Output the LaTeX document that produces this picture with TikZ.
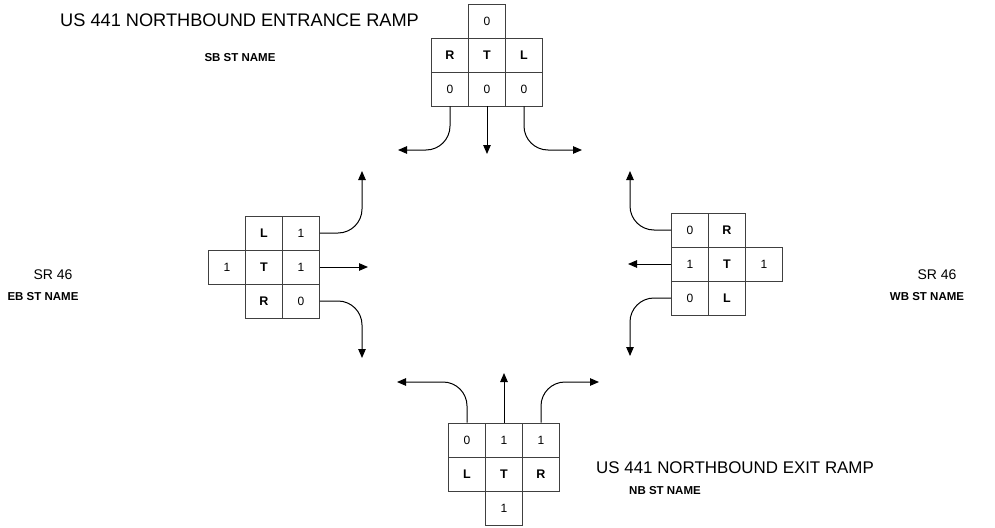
\documentclass[tikz,border=0pt]{standalone}
\usepackage{fontspec}
\setmainfont{Liberation Sans}
\usetikzlibrary{arrows.meta}
\begin{document}
\begin{tikzpicture}[x=1pt,y=-1pt,
 cell/.style={draw=black!75, line width=0.8pt, minimum width=37pt, minimum height=34pt, inner sep=0pt, font=\fontsize{12}{14}\selectfont},
 bcell/.style={cell, font=\fontsize{12.5}{14}\selectfont\bfseries},
 arr/.style={line width=1pt, -{Triangle[length=9pt,width=7.5pt]}, rounded corners=24pt},
 big/.style={font=\fontsize{18.2}{21}\selectfont, inner sep=0pt},
 bigb/.style={font=\fontsize{16.9}{20}\selectfont, inner sep=0pt},
 mid/.style={font=\fontsize{14}{16}\selectfont, inner sep=0pt},
 small/.style={font=\fontsize{11.5}{13}\selectfont\bfseries, inner sep=0pt}]
\useasboundingbox (0,0) rectangle (995,527);

% top grid
\node[cell] (tN) at (487,21) {0};
\node[bcell] (tR) at (450,55) {R};
\node[bcell] (tT) at (487,55) {T};
\node[bcell] (tL) at (524,55) {L};
\node[cell] (tR0) at (450,89) {0};
\node[cell] (tT0) at (487,89) {0};
\node[cell] (tL0) at (524,89) {0};
\coordinate (tA) at (398,150);
\coordinate (tB) at (487,154);
\coordinate (tC) at (582,150);
\draw[arr] (tR0.south) |- (tA);
\draw[arr] (tT0.south) -- (tB);
\draw[arr] (tL0.south) |- (tC);

% left grid
\node[cell] (lX) at (227,267) {1};
\node[bcell] (lL) at (264,233) {L};
\node[bcell] (lT) at (264,267) {T};
\node[bcell] (lR) at (264,301) {R};
\node[cell] (l1) at (301,233) {1};
\node[cell] (l2) at (301,267) {1};
\node[cell] (l3) at (301,301) {0};
\coordinate (lA) at (362,171);
\coordinate (lB) at (368,267);
\coordinate (lC) at (362,358);
\draw[arr] (l1.east) -| (lA);
\draw[arr] (l2.east) -- (lB);
\draw[arr] (l3.east) -| (lC);

% right grid
\node[cell] (r1) at (690,230) {0};
\node[cell] (r2) at (690,264) {1};
\node[cell] (r3) at (690,298) {0};
\node[bcell] (rR) at (727,230) {R};
\node[bcell] (rT) at (727,264) {T};
\node[bcell] (rL) at (727,298) {L};
\node[cell] (rX) at (764,264) {1};
\coordinate (rA) at (630,171);
\coordinate (rB) at (628,264);
\coordinate (rC) at (630,356);
\draw[arr] (r1.west) -| (rA);
\draw[arr] (r2.west) -- (rB);
\draw[arr] (r3.west) -| (rC);

% bottom grid
\node[cell] (b1) at (467,440) {0};
\node[cell] (b2) at (504,440) {1};
\node[cell] (b3) at (541,440) {1};
\node[bcell] (bL) at (467,474) {L};
\node[bcell] (bT) at (504,474) {T};
\node[bcell] (bR) at (541,474) {R};
\node[cell] (bX) at (504,508) {1};
\coordinate (bA) at (397,382);
\coordinate (bB) at (504,373);
\coordinate (bC) at (599,382);
\draw[arr] (b1.north) |- (bA);
\draw[arr] (b2.north) -- (bB);
\draw[arr] (b3.north) |- (bC);

% labels
\node[big, anchor=west] (ttl) at (60,20) {US 441 NORTHBOUND ENTRANCE RAMP};
\node[small] (tsb) at (240,58) {SB ST NAME};
\node[mid] (lsr) at (53,275) {SR 46};
\node[small] (leb) at (43,297) {EB ST NAME};
\node[mid] (rsr) at (937,275) {SR 46};
\node[small] (rwb) at (927,297) {WB ST NAME};
\node[bigb, anchor=west] (btl) at (596,468) {US 441 NORTHBOUND EXIT RAMP};
\node[small] (bnb) at (665,491) {NB ST NAME};
\end{tikzpicture}
\end{document}
